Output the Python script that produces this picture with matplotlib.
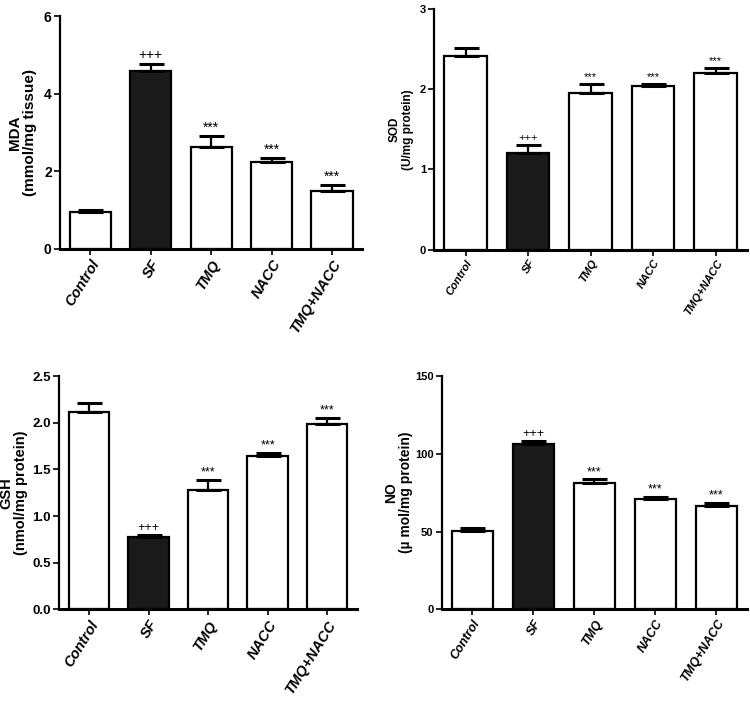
import matplotlib
matplotlib.use('Agg')
import matplotlib.pyplot as plt

groups = ['Control', 'SF', 'TMQ', 'NACC', 'TMQ+NACC']
marks = ['', '+++', '***', '***', '***']
bar_colors = ['white', '#1a1a1a', 'white', 'white', 'white']

# valores (média e topo da barra de erro)
mda = [0.95, 4.58, 2.62, 2.23, 1.48]
mda_err = [0.05, 0.2, 0.3, 0.12, 0.18]
sod = [2.42, 1.21, 1.96, 2.04, 2.21]
sod_err = [0.09, 0.1, 0.11, 0.03, 0.06]
gsh = [2.11, 0.78, 1.28, 1.64, 1.99]
gsh_err = [0.1, 0.02, 0.11, 0.04, 0.06]
no = [50.5, 106.5, 81.0, 71.0, 66.5]
no_err = [1.5, 1.5, 2.5, 1.5, 1.8]

sans = ['Liberation Sans', 'DejaVu Sans']
narrow = ['DejaVu Sans Condensed', 'Liberation Sans Narrow', 'Liberation Sans']

fig = plt.figure(figsize=(7.5, 7.09), dpi=100)


def panel(rect, vals, errs, ymax, yticks, ticklabels, ylabel, label_x, label_size,
          xt_size, yt_size, mark_size):
    ax = fig.add_axes(rect)
    x = range(len(groups))
    ax.bar(x, vals, width=0.68, color=bar_colors, edgecolor='black', linewidth=1.6, zorder=2)
    ax.errorbar(x, vals, yerr=[[0] * len(errs), errs], fmt='none', ecolor='black',
                elinewidth=1.6, capsize=9, capthick=2.2, zorder=3)
    for i, m in enumerate(marks):
        if m:
            ax.text(i, vals[i] + errs[i] + ymax * 0.005, m, ha='center', va='bottom',
                    fontsize=mark_size, family=sans)
    ax.set_xlim(-0.5, 4.5)
    ax.set_ylim(0, ymax)
    ax.set_yticks(yticks)
    ax.set_yticklabels(ticklabels, family=narrow, fontweight='bold', fontsize=yt_size)
    ax.set_xticks(list(x))
    ax.set_xticklabels(groups, rotation=58, ha='right', rotation_mode='anchor',
                       family=sans, fontweight='bold', fontstyle='italic', fontsize=xt_size)
    ax.spines['top'].set_visible(False)
    ax.spines['right'].set_visible(False)
    ax.spines['left'].set_linewidth(1.6)
    ax.spines['bottom'].set_linewidth(2.2)
    ax.tick_params(axis='both', direction='out', length=4, width=1.2, pad=2)
    ax.set_ylabel(ylabel, family=sans, fontweight='bold', fontsize=label_size,
                  linespacing=1.1)
    ax.yaxis.set_label_coords(label_x, 0.5)
    return ax


panel([0.080, 0.649, 0.403, 0.328], mda, mda_err, 6, [0, 2, 4, 6],
      ['0', '2', '4', '6'], 'MDA\n(mmol/mg tissue)', -0.077, 11, 10.5, 10, 10)
panel([0.579, 0.648, 0.417, 0.339], sod, sod_err, 3, [0, 1, 2, 3],
      ['0', '1', '2', '3'], 'SOD\n(U/mg protein)', -0.065, 8.5, 8, 8, 8)
panel([0.079, 0.1406, 0.397, 0.329], gsh, gsh_err, 2.5, [0, 0.5, 1.0, 1.5, 2.0, 2.5],
      ['0.0', '0.5', '1.0', '1.5', '2.0', '2.5'], 'GSH\n(nmol/mg protein)', -0.105, 10.5, 10.5, 9.5, 9)
panel([0.589, 0.1406, 0.407, 0.329], no, no_err, 150, [0, 50, 100, 150],
      ['0', '50', '100', '150'], 'NO\n(\u00b5 mol/mg protein)', -0.095, 10, 9, 8, 9)

fig.savefig('out.png', dpi=100, facecolor='white')
